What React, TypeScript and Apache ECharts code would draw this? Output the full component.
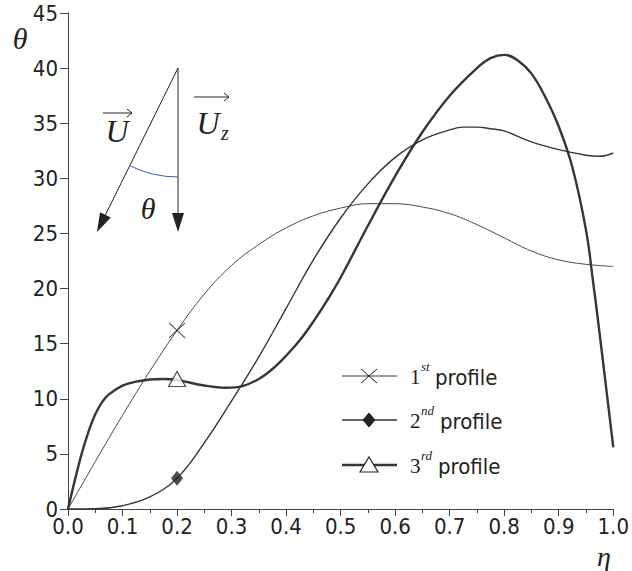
import React, { useEffect, useRef } from "react";
import * as echarts from "echarts";

// ---- data ----
const eta1 = [0, 0.05, 0.1, 0.15, 0.2, 0.25, 0.3, 0.35, 0.4, 0.45, 0.5, 0.55, 0.6, 0.65, 0.7, 0.75, 0.8, 0.85, 0.9, 0.95, 1.0];
const theta1 = [0, 4.3, 8.5, 12.5, 16.2, 19.5, 22.1, 24.0, 25.5, 26.6, 27.3, 27.7, 27.7, 27.4, 26.8, 25.8, 24.6, 23.4, 22.6, 22.2, 22.0];

const eta2 = [0, 0.05, 0.1, 0.15, 0.2, 0.25, 0.3, 0.35, 0.4, 0.45, 0.5, 0.55, 0.6, 0.65, 0.7, 0.725, 0.75, 0.775, 0.8, 0.85, 0.9, 0.95, 0.975, 1.0];
const theta2 = [0, 0.02, 0.3, 1.1, 2.8, 6.0, 9.8, 13.8, 18.2, 22.6, 26.4, 29.5, 31.9, 33.5, 34.4, 34.65, 34.65, 34.5, 34.3, 33.3, 32.6, 32.1, 32.0, 32.3];

const eta3 = [0, 0.0125, 0.025, 0.0375, 0.05, 0.0625, 0.075, 0.1, 0.125, 0.15, 0.175, 0.2, 0.25, 0.29, 0.32, 0.35, 0.375, 0.4, 0.425, 0.45, 0.475, 0.5, 0.55, 0.6, 0.65, 0.7, 0.75, 0.775, 0.8, 0.825, 0.85, 0.875, 0.9, 0.925, 0.95, 0.9625, 0.975, 1.0];
const theta3 = [0, 2.6, 5.0, 7.0, 8.6, 9.7, 10.4, 11.2, 11.55, 11.75, 11.8, 11.7, 11.2, 11.0, 11.15, 11.8, 12.7, 13.9, 15.3, 17.0, 18.9, 21.0, 25.7, 30.2, 34.2, 37.5, 40.0, 40.9, 41.2, 40.7, 39.5, 37.4, 34.7, 31.0, 25.3, 20.8, 15.9, 5.6];

const markerEta = 0.2;
const legendNames = ["1", "2", "3"];
const legendSups = ["st", "nd", "rd"];
const legendWord = "profile";

const xMin = 0, xMax = 1, xStep = 0.1;
const yMin = 0, yMax = 45, yStep = 5;

const SERIF = "'Liberation Serif', 'DejaVu Serif', serif";
const SANS = "'DejaVu Sans Condensed', 'DejaVu Sans', sans-serif";
const INK = "#222";
const LINE = "#363636";

const pairs = (xs: number[], ys: number[]) => xs.map((x, i) => [x, ys[i]]);
const at = (xs: number[], ys: number[], x: number) => ys[xs.indexOf(x)];

export default function App() {
  const ref = useRef<HTMLDivElement>(null);
  useEffect(() => {
    if (!ref.current) return;
    const chart = echarts.init(ref.current, null, { renderer: "svg" });

    // diagram geometry
    const top = [178, 68];
    const tipV = [178, 232];
    const tipS = [97, 232];
    const dx = tipS[0] - top[0], dy = tipS[1] - top[1];
    const L = Math.hypot(dx, dy);
    const ux = dx / L, uy = dy / L;
    const nx = uy, ny = -ux;
    const hl = 19, hw = 6;
    const bS = [tipS[0] - ux * hl, tipS[1] - uy * hl];
    const angS = Math.atan2(uy, ux);

    const legendRows = [376, 420, 465];
    const legendWidths = [1, 1.5, 2.6];
    const lx0 = 342, lx1 = 397, lmx = 369;

    const legendGraphics: any[] = [];
    legendRows.forEach((ry, i) => {
      legendGraphics.push({
        type: "line", shape: { x1: lx0, y1: ry, x2: lx1, y2: ry },
        style: { stroke: LINE, lineWidth: legendWidths[i] },
      });
      if (i === 0) {
        legendGraphics.push({ type: "line", shape: { x1: lmx - 8, y1: ry - 7, x2: lmx + 8, y2: ry + 7 }, style: { stroke: INK, lineWidth: 1 } });
        legendGraphics.push({ type: "line", shape: { x1: lmx - 8, y1: ry + 7, x2: lmx + 8, y2: ry - 7 }, style: { stroke: INK, lineWidth: 1 } });
      } else if (i === 1) {
        legendGraphics.push({ type: "polygon", shape: { points: [[lmx, ry - 7], [lmx + 6, ry], [lmx, ry + 7], [lmx - 6, ry]] }, style: { fill: INK, stroke: INK, lineWidth: 1 } });
      } else {
        legendGraphics.push({ type: "polygon", shape: { points: [[lmx, ry - 8], [lmx + 9, ry + 7], [lmx - 9, ry + 7]] }, style: { fill: "#fff", stroke: INK, lineWidth: 1.2 } });
      }
      legendGraphics.push({ type: "text", x: 410, y: ry + 1, style: { text: legendNames[i], font: `21px ${SERIF}`, fill: INK, align: "left", verticalAlign: "middle" } });
      legendGraphics.push({ type: "text", x: 421, y: ry - 10, style: { text: legendSups[i], font: `italic 13px ${SERIF}`, fill: INK, align: "left", verticalAlign: "middle" } });
      legendGraphics.push({ type: "text", x: i === 0 ? 435 : i === 1 ? 440 : 438, y: ry + 1, style: { text: legendWord, font: `22px ${SANS}`, fill: INK, align: "left", verticalAlign: "middle" } });
    });

    const option: any = {
      animation: false,
      backgroundColor: "#fff",
      grid: { left: 68, right: 17, top: 13, bottom: 62, containLabel: false },
      xAxis: {
        type: "value", min: xMin, max: xMax, interval: xStep,
        axisLine: { show: true, onZero: false, lineStyle: { color: "#444", width: 1 } },
        axisTick: { show: true, inside: false, length: 7, lineStyle: { color: "#444" } },
        minorTick: { show: true, splitNumber: 2, length: 4, lineStyle: { color: "#444" } },
        splitLine: { show: false },
        axisLabel: { color: INK, fontSize: 22, lineHeight: 16, fontFamily: SANS, margin: 9, formatter: (v: number) => v.toFixed(1) },
      },
      yAxis: {
        type: "value", min: yMin, max: yMax, interval: yStep,
        axisLine: { show: true, onZero: false, lineStyle: { color: "#444", width: 1 } },
        axisTick: { show: true, inside: false, length: 8, lineStyle: { color: "#444" } },
        splitLine: { show: false },
        axisLabel: { color: INK, fontSize: 22, lineHeight: 16, fontFamily: SANS, margin: 10 },
      },
      series: [
        { type: "line", name: "1st profile", data: pairs(eta1, theta1), smooth: 0.4, symbol: "none", lineStyle: { color: LINE, width: 0.9 }, z: 2 },
        { type: "line", name: "2nd profile", data: pairs(eta2, theta2), smooth: 0.4, symbol: "none", lineStyle: { color: LINE, width: 1.4 }, z: 2 },
        { type: "line", name: "3rd profile", data: pairs(eta3, theta3), smooth: 0.4, symbol: "none", lineStyle: { color: LINE, width: 2.4 }, z: 3 },
        {
          type: "scatter", data: [[markerEta, at(eta1, theta1, markerEta)]], z: 5,
          symbol: "path://M0,0L16,15M16,0L0,15", symbolSize: [16, 15],
          itemStyle: { color: "none", borderColor: INK, borderWidth: 1 },
        },
        {
          type: "scatter", data: [[markerEta, at(eta2, theta2, markerEta)]], z: 5,
          symbol: "diamond", symbolSize: [12, 15], itemStyle: { color: INK },
        },
        {
          type: "scatter", data: [[markerEta, at(eta3, theta3, markerEta)]], z: 5,
          symbol: "triangle", symbolSize: [17, 15], symbolOffset: [0, -1],
          itemStyle: { color: "#fff", borderColor: INK, borderWidth: 1.2 },
        },
      ],
      graphic: [
        // axis titles
        { type: "text", x: 20, y: 38, style: { text: "θ", font: `italic 30px ${SERIF}`, fill: INK, align: "center", verticalAlign: "middle" } },
        { type: "text", x: 604, y: 556, style: { text: "η", font: `italic 28px ${SERIF}`, fill: INK, align: "center", verticalAlign: "middle" } },
        // vector diagram
        { type: "line", shape: { x1: top[0], y1: top[1], x2: tipV[0], y2: tipV[1] - hl + 1 }, style: { stroke: INK, lineWidth: 1 } },
        { type: "polygon", shape: { points: [[tipV[0] - hw, tipV[1] - hl], [tipV[0] + hw, tipV[1] - hl], [tipV[0], tipV[1]]] }, style: { fill: INK } },
        { type: "line", shape: { x1: top[0], y1: top[1], x2: bS[0], y2: bS[1] }, style: { stroke: INK, lineWidth: 1 } },
        { type: "polygon", shape: { points: [[bS[0] + nx * hw, bS[1] + ny * hw], [bS[0] - nx * hw, bS[1] - ny * hw], [tipS[0], tipS[1]]] }, style: { fill: INK } },
        { type: "arc", shape: { cx: top[0], cy: top[1], r: 109, startAngle: Math.PI / 2, endAngle: angS, clockwise: true }, style: { stroke: "#3b5bb0", lineWidth: 1, fill: "none" } },
        // U vector label
        { type: "text", x: 117, y: 131, style: { text: "U", font: `italic 32px ${SERIF}`, fill: INK, align: "center", verticalAlign: "middle" } },
        { type: "line", shape: { x1: 103, y1: 113, x2: 132, y2: 113 }, style: { stroke: INK, lineWidth: 1 } },
        { type: "polyline", shape: { points: [[127, 109], [132, 113], [127, 117]] }, style: { stroke: INK, lineWidth: 1, fill: "none" } },
        // Uz vector label
        { type: "text", x: 208, y: 123, style: { text: "U", font: `italic 32px ${SERIF}`, fill: INK, align: "center", verticalAlign: "middle" } },
        { type: "text", x: 225, y: 133, style: { text: "z", font: `italic 20px ${SERIF}`, fill: INK, align: "center", verticalAlign: "middle" } },
        { type: "line", shape: { x1: 194, y1: 97, x2: 229, y2: 97 }, style: { stroke: INK, lineWidth: 1 } },
        { type: "polyline", shape: { points: [[224, 93], [229, 97], [224, 101]] }, style: { stroke: INK, lineWidth: 1, fill: "none" } },
        // theta in diagram
        { type: "text", x: 148, y: 208, style: { text: "θ", font: `italic 30px ${SERIF}`, fill: INK, align: "center", verticalAlign: "middle" } },
        ...legendGraphics,
      ],
    };
    chart.setOption(option);
    return () => chart.dispose();
  }, []);
  return <div ref={ref} style={{ position: "fixed", left: 0, top: 0, width: 632, height: 571, background: "#fff" }} />;
}
